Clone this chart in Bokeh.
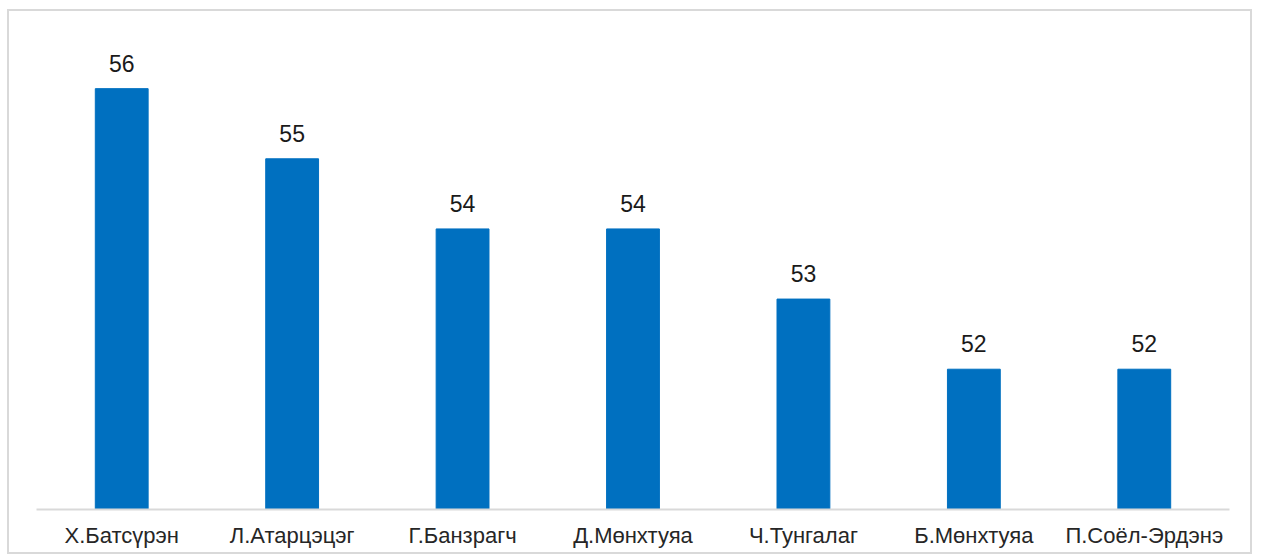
from bokeh.plotting import figure
from bokeh.models import ColumnDataSource, Range1d, LabelSet
from bokeh.core.properties import value
from bokeh.embed import file_html
from bokeh.resources import INLINE

names = ["Х.Батсүрэн", "Л.Атарцэцэг", "Г.Банзрагч", "Д.Мөнхтуяа", "Ч.Тунгалаг", "Б.Мөнхтуяа", "П.Соёл-Эрдэнэ"]
values = [56, 55, 54, 54, 53, 52, 52]

src = ColumnDataSource(dict(x=names, top=values, lbl=[str(v) for v in values]))

p = figure(x_range=names, y_range=Range1d(50, 57), width=1245, height=545,
           output_backend="svg", toolbar_location=None,
           min_border_left=27, min_border_right=25, min_border_top=7, min_border_bottom=47)
p.styles = {"border": "2px solid #d9d9d9", "margin-left": "7px", "margin-top": "9px"}
p.vbar(x="x", top="top", bottom=50, width=0.31, color="#0070C0", source=src)

labels = LabelSet(x="x", y="top", text="lbl", source=src, text_align="center",
                  text_baseline="bottom", y_offset=17, text_font_size="23px",
                  text_font=value("Liberation Sans"), text_color="#1a1a1a")
p.add_layout(labels)

p.yaxis.visible = False
p.xgrid.grid_line_color = None
p.ygrid.grid_line_color = None
p.outline_line_color = None
p.xaxis.axis_line_color = "#d9d9d9"
p.xaxis.axis_line_width = 2
p.xaxis.major_tick_line_color = None
p.xaxis.minor_tick_line_color = None
p.xaxis.major_label_text_font = "Liberation Sans"
p.xaxis.major_label_text_font_size = "22px"
p.xaxis.major_label_text_color = "#262626"
p.xaxis.major_label_standoff = 7

open("out.html", "w").write(file_html(p, INLINE))
